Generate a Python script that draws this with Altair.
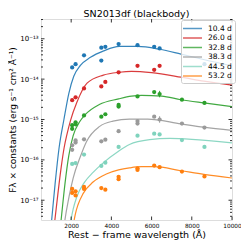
import altair as alt
import pandas as pd

# ---------------- data ----------------
epochs = ["10.4 d", "26.0 d", "32.8 d", "38.3 d", "44.5 d", "53.2 d"]
colors = ["#1f77b4", "#d62728", "#2ca02c", "#9a9a9a", "#7fd3bd", "#ff7f0e"]

# observed photometry: rest wavelength (Å) and log10 flux
obs_wl_104 = [2050, 2220, 2640, 3500, 3500, 3700, 4360, 5300, 6130, 6400, 8630]
obs_lf_104 = [-13.71, -13.63, -13.41, -13.22, -13.54, -13.20, -13.13, -13.16, -13.20, -13.24, -13.63]
obs_wl_260 = [2050, 2220, 2640, 3500, 3700, 4360, 5300, 6130, 6400]
obs_lf_260 = [-14.52, -14.45, -14.23, -14.18, -14.07, -13.83, -13.67, -13.77, -13.67]
obs_wl_328 = [2050, 2050, 2220, 2220, 2640, 3500, 3700, 4360, 4360, 5300, 6130, 6400, 7510, 8630]
obs_lf_328 = [-15.23, -15.14, -15.07, -15.12, -14.90, -14.93, -14.87, -14.64, -14.68, -14.43, -14.32, -14.37, -14.51, -14.59]
obs_wl_383 = [2050, 2050, 2220, 2220, 2640, 3500, 3700, 4360, 5300, 5300, 6130, 6400, 7510, 8630]
obs_lf_383 = [-15.75, -15.64, -15.57, -15.52, -15.49, -15.54, -15.50, -15.29, -15.04, -15.10, -14.93, -15.00, -15.10, -15.20]
obs_wl_445 = [2050, 2220, 2640, 3500, 3700, 4360, 5300, 6130, 6400, 7510, 8630]
obs_lf_445 = [-16.10, -16.08, -15.87, -16.15, -16.07, -15.68, -15.40, -15.35, -15.37, -15.51, -15.68]
obs_wl_532 = [2050, 2050, 2220, 2220, 2640, 2640, 3500, 3700, 4360, 4360, 5300, 5300, 6130, 6400, 7510, 8630]
obs_lf_532 = [-16.72, -16.82, -16.78, -16.88, -16.67, -16.72, -16.70, -16.74, -16.42, -16.48, -16.21, -16.25, -16.14, -16.18, -16.29, -16.41]

# blackbody fit curves
fit_wl_104 = [950, 1030, 1200, 1400, 1640, 1885, 2130, 2460, 2960, 3620, 4400, 5300, 6400, 7460, 8630, 10000]
fit_lf_104 = [-17.9, -17.49, -16.6, -15.7, -15.0, -14.35, -13.93, -13.66, -13.46, -13.30, -13.19, -13.19, -13.26, -13.38, -13.52, -13.67]
fit_wl_260 = [1100, 1190, 1350, 1500, 1650, 1800, 1970, 2280, 2790, 3600, 4400, 5000, 6000, 7460, 8600, 10000]
fit_lf_260 = [-17.9, -17.49, -16.8, -16.2, -15.7, -15.35, -15.02, -14.58, -14.10, -13.90, -13.83, -13.81, -13.84, -13.95, -14.05, -14.15]
fit_wl_328 = [1400, 1500, 1690, 1880, 2100, 2430, 2700, 3400, 4360, 5000, 5500, 6500, 7460, 8600, 10000]
fit_lf_328 = [-17.95, -17.49, -16.6, -15.9, -15.4, -15.05, -14.88, -14.63, -14.49, -14.42, -14.40, -14.42, -14.51, -14.59, -14.68]
fit_wl_383 = [1600, 1690, 1900, 2100, 2450, 2760, 3420, 4080, 4900, 5800, 7460, 8600, 10000]
fit_lf_383 = [-17.85, -17.49, -16.9, -16.45, -15.93, -15.55, -15.17, -15.04, -14.99, -14.99, -15.11, -15.19, -15.27]
fit_wl_445 = [1900, 1990, 2100, 2270, 2670, 3090, 3580, 4320, 4900, 5900, 6900, 8000, 10000]
fit_lf_445 = [-17.75, -17.49, -17.22, -16.93, -16.55, -16.31, -16.08, -15.80, -15.62, -15.50, -15.47, -15.49, -15.58]
fit_wl_532 = [2100, 2150, 2200, 2350, 2600, 3090, 3750, 4360, 4900, 5500, 6140, 7460, 8600, 10000]
fit_lf_532 = [-17.65, -17.49, -17.36, -17.10, -16.83, -16.55, -16.35, -16.25, -16.20, -16.17, -16.17, -16.27, -16.36, -16.45]

# error bars (epoch, wavelength, low, high in log10 flux)
err_epoch = ["32.8 d", "38.3 d"]
err_wl = [6400, 6400]
err_lo = [-14.45, -15.08]
err_hi = [-14.29, -14.92]

# axis ticks
x_ticks = [2000, 4000, 6000, 8000, 10000]
y_major = [1e-17, 1e-16, 1e-15, 1e-14, 1e-13]
y_minor_mult = [2, 3, 4, 5, 6, 7, 8, 9]
y_minor_exp = [-18, -17, -16, -15, -14, -13]

# ---------------- tables ----------------
obs_sets = [(obs_wl_104, obs_lf_104), (obs_wl_260, obs_lf_260), (obs_wl_328, obs_lf_328),
            (obs_wl_383, obs_lf_383), (obs_wl_445, obs_lf_445), (obs_wl_532, obs_lf_532)]
fit_sets = [(fit_wl_104, fit_lf_104), (fit_wl_260, fit_lf_260), (fit_wl_328, fit_lf_328),
            (fit_wl_383, fit_lf_383), (fit_wl_445, fit_lf_445), (fit_wl_532, fit_lf_532)]

obs_rows, fit_rows = [], []
for ep, (w, l) in zip(epochs, obs_sets):
    for a, b in zip(w, l):
        obs_rows.append({"epoch": ep, "wl": a, "flux": 10.0 ** b})
for ep, (w, l) in zip(epochs, fit_sets):
    for i, (a, b) in enumerate(zip(w, l)):
        fit_rows.append({"epoch": ep, "wl": a, "flux": 10.0 ** b, "order": i})
obs = pd.DataFrame(obs_rows)
fit = pd.DataFrame(fit_rows)
err = pd.DataFrame({"epoch": err_epoch, "wl": err_wl,
                    "flux": [10.0 ** v for v in err_lo], "hi": [10.0 ** v for v in err_hi]})

ymin, ymax = 10 ** -17.49, 10 ** -12.51
yminor = [m * 10.0 ** e for e in y_minor_exp for m in y_minor_mult if ymin <= m * 10.0 ** e <= ymax]
ymaj_df = pd.DataFrame({"flux": y_major})
ymin_df = pd.DataFrame({"flux": yminor})
xt_df = pd.DataFrame({"wl": x_ticks})

W, H = 191, 201
FONT = "DejaVu Sans"
XT = "Rest \u2212 frame wavelength (\u00c5)"
YT = "F\u03bb \u00d7 constants (erg s\u207b\u00b9 cm\u00b2 \u00c5\u207b\u00b9)"
xscale = alt.Scale(domain=[500, 10000], nice=False, zero=False)
yscale = alt.Scale(type="log", domain=[ymin, ymax], nice=False)
cscale = alt.Scale(domain=epochs, range=colors)

label_expr = ("datum.value < 5e-17 ? '10\u207b\u00b9\u2077' : datum.value < 5e-16 ? '10\u207b\u00b9\u2076' : "
              "datum.value < 5e-15 ? '10\u207b\u00b9\u2075' : datum.value < 5e-14 ? '10\u207b\u00b9\u2074' : '10\u207b\u00b9\u00b3'")

xaxis = alt.Axis(title=XT, values=x_ticks, format="d",
                 ticks=False, domain=False, grid=False, labelFlush=False,
                 labelFont=FONT, labelFontSize=5.8, labelColor="black", labelPadding=2,
                 titleFont=FONT, titleFontSize=9.5, titleFontWeight="normal",
                 titleColor="black", titlePadding=2)
yaxis = alt.Axis(title=YT, values=y_major, labelExpr=label_expr,
                 ticks=False, domain=False, grid=False,
                 labelFont=FONT, labelFontSize=7, labelColor="black", labelPadding=3,
                 titleFont=FONT, titleFontSize=9, titleFontWeight="normal",
                 titleColor="black", titleX=-24, titleY=H / 2, titleBaseline="bottom",
                 titleAlign="center", titleAngle=270)

X = alt.X("wl:Q", scale=xscale, axis=xaxis, title=XT)
Y = alt.Y("flux:Q", scale=yscale, axis=yaxis, title=YT)

lines = alt.Chart(fit).mark_line(interpolate="monotone", clip=True, strokeWidth=1.2, opacity=0.9).encode(
    x=X, y=Y,
    color=alt.Color("epoch:N", scale=cscale, sort=epochs,
                    legend=alt.Legend(title=None, orient="none", legendX=140, legendY=1,
                                      symbolType="M-2,0H2", symbolSize=90, symbolStrokeWidth=1.5,
                                      symbolOpacity=0.75, symbolOffset=3, labelOffset=10,
                                      labelFont=FONT, labelFontSize=7.5, labelColor="black",
                                      padding=3, rowPadding=0.5,
                                      fillColor="rgba(255,255,255,0.8)", strokeColor="#cccccc",
                                      cornerRadius=2)),
    order="order:Q",
)

points = alt.Chart(obs).mark_circle(size=18, opacity=1, clip=True).encode(
    x=X, y=Y,
    color=alt.Color("epoch:N", scale=cscale, legend=None),
)

errbars = alt.Chart(err).mark_rule(strokeWidth=1).encode(
    x=X, y=Y, y2="hi:Q",
    color=alt.Color("epoch:N", scale=cscale, legend=None),
)

def ytick(df, x0, x1):
    return alt.Chart(df).mark_rule(color="black", strokeWidth=0.8).encode(
        y=Y, x=alt.value(x0), x2=alt.value(x1))

def xtick(y0, y1):
    return alt.Chart(xt_df).mark_rule(color="black", strokeWidth=0.8).encode(
        x=X, y=alt.value(y0), y2=alt.value(y1))

ticks = [ytick(ymaj_df, 0, 3.5), ytick(ymaj_df, W - 3.5, W),
         ytick(ymin_df, 0, 2), ytick(ymin_df, W - 2, W),
         xtick(H, H - 3.5), xtick(0, 3.5)]

chart = alt.layer(lines, errbars, points, *ticks).resolve_legend(color="independent").properties(
    width=W, height=H,
    autosize=alt.AutoSizeParams(type="none"),
    padding={"left": 33, "top": 11, "right": 9, "bottom": 21},
    title=alt.TitleParams("SN2013df (blackbody)", font=FONT, fontSize=9.5, fontWeight="normal",
                          color="black", offset=3, anchor="middle", baseline="alphabetic",
                          frame="group", dy=11),
).configure_view(stroke="#222222", strokeWidth=1).configure(background="white")

chart.save("out.html", embed_options={"renderer": "svg", "actions": False})
